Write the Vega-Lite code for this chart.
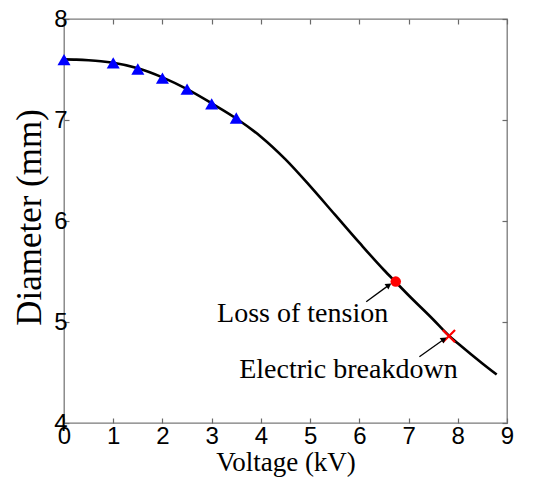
{
  "$schema": "https://vega.github.io/schema/vega-lite/v6.json",
  "width": 443,
  "height": 404,
  "autosize": "none",
  "padding": {"left": 64, "top": 19, "right": 31, "bottom": 55},
  "background": "white",
  "config": {
    "view": {"stroke": "#7a7a7a", "strokeWidth": 1.3},
    "axis": {
      "grid": false,
      "domain": false,
      "tickColor": "#6a6a6a",
      "tickSize": -5,
      "tickWidth": 1.2,
      "labelFont": "Liberation Sans",
      "labelFontSize": 24,
      "labelColor": "black",
      "titleFont": "Liberation Serif",
      "titleFontWeight": "normal",
      "titleColor": "black"
    }
  },
  "datasets": {
    "curve": [
      {"v": 0, "d": 7.6},
      {"v": 0.25, "d": 7.598},
      {"v": 0.5, "d": 7.592},
      {"v": 0.75, "d": 7.582},
      {"v": 1, "d": 7.566},
      {"v": 1.5, "d": 7.512},
      {"v": 2, "d": 7.422},
      {"v": 2.5, "d": 7.305},
      {"v": 3, "d": 7.165},
      {"v": 3.5, "d": 7.015},
      {"v": 4, "d": 6.835},
      {"v": 4.5, "d": 6.61},
      {"v": 5, "d": 6.345},
      {"v": 5.5, "d": 6.065},
      {"v": 6, "d": 5.785},
      {"v": 6.5, "d": 5.515},
      {"v": 6.74, "d": 5.395},
      {"v": 7, "d": 5.265},
      {"v": 7.5, "d": 5.025},
      {"v": 7.82, "d": 4.865},
      {"v": 8, "d": 4.79},
      {"v": 8.5, "d": 4.59},
      {"v": 8.79, "d": 4.48}
    ],
    "measured": [
      {"v": 0, "d": 7.597},
      {"v": 1, "d": 7.565},
      {"v": 1.5, "d": 7.505},
      {"v": 2, "d": 7.415},
      {"v": 2.5, "d": 7.305},
      {"v": 3, "d": 7.16},
      {"v": 3.5, "d": 7.02}
    ],
    "labels": [
      {"v": 3.11, "d": 5.0, "label": "Loss of tension"},
      {"v": 3.56, "d": 4.445, "label": "Electric breakdown"}
    ],
    "arrows": [
      {"v": 6.14, "d": 5.2, "v2": 6.6, "d2": 5.365},
      {"v": 7.22, "d": 4.655, "v2": 7.72, "d2": 4.83}
    ]
  },
  "layer": [
    {
      "data": {"name": "curve"},
      "mark": {"type": "line", "color": "black", "strokeWidth": 2.6, "interpolate": "monotone"},
      "encoding": {
        "x": {"field": "v", "type": "quantitative", "scale": {"domain": [0, 9], "nice": false},
          "axis": {"orient": "bottom", "values": [0,1,2,3,4,5,6,7,8,9], "title": "Voltage (kV)", "titleFontSize": 27, "labelPadding": 6, "labelFlush": false, "titleBaseline": "alphabetic", "titleY": 47}},
        "y": {"field": "d", "type": "quantitative", "scale": {"domain": [4, 8], "nice": false},
          "axis": {"orient": "left", "values": [4,5,6,7,8], "title": "Diameter (mm)", "titleFontSize": 35, "labelPadding": 2, "titleBaseline": "alphabetic", "titleX": -24, "titleY": 198, "labelFlush": false}}
      }
    },
    {
      "data": {"name": "measured"},
      "mark": {"type": "point", "shape": "triangle-up", "filled": true, "color": "#0000ff", "size": 170, "opacity": 1},
      "encoding": {
        "x": {"field": "v", "type": "quantitative", "axis": {"orient": "top", "values": [0,1,2,3,4,5,6,7,8,9], "labels": false, "title": null}},
        "y": {"field": "d", "type": "quantitative", "axis": {"orient": "right", "values": [4,5,6,7,8], "labels": false, "title": null}}
      }
    },
    {
      "data": {"values": [{"v": 6.74, "d": 5.4}]},
      "mark": {"type": "point", "shape": "circle", "filled": true, "color": "#ff0000", "size": 110, "opacity": 1},
      "encoding": {
        "x": {"field": "v", "type": "quantitative", "axis": null},
        "y": {"field": "d", "type": "quantitative", "axis": null}
      }
    },
    {
      "data": {"values": [{"v": 7.82, "d": 4.86}]},
      "mark": {"type": "point", "shape": "M-1,-1L1,1M-1,1L1,-1", "filled": false, "color": "#ff0000", "strokeWidth": 2.2, "size": 150, "opacity": 1},
      "encoding": {
        "x": {"field": "v", "type": "quantitative", "axis": null},
        "y": {"field": "d", "type": "quantitative", "axis": null}
      }
    },
    {
      "data": {"name": "arrows"},
      "mark": {"type": "rule", "color": "black", "strokeWidth": 1.3},
      "encoding": {
        "x": {"field": "v", "type": "quantitative", "axis": null},
        "y": {"field": "d", "type": "quantitative", "axis": null},
        "x2": {"field": "v2"},
        "y2": {"field": "d2"}
      }
    },
    {
      "data": {"name": "arrows"},
      "mark": {"type": "point", "shape": "triangle-up", "filled": true, "color": "black", "size": 45, "angle": 55, "opacity": 1},
      "encoding": {
        "x": {"field": "v2", "type": "quantitative", "axis": null},
        "y": {"field": "d2", "type": "quantitative", "axis": null}
      }
    },
    {
      "data": {"name": "labels"},
      "mark": {"type": "text", "font": "Liberation Serif", "fontSize": 28, "align": "left", "baseline": "alphabetic", "color": "black"},
      "encoding": {
        "x": {"field": "v", "type": "quantitative", "axis": null},
        "y": {"field": "d", "type": "quantitative", "axis": null},
        "text": {"field": "label"}
      }
    }
  ],
  "resolve": {"axis": {"x": "independent", "y": "independent"}}
}
